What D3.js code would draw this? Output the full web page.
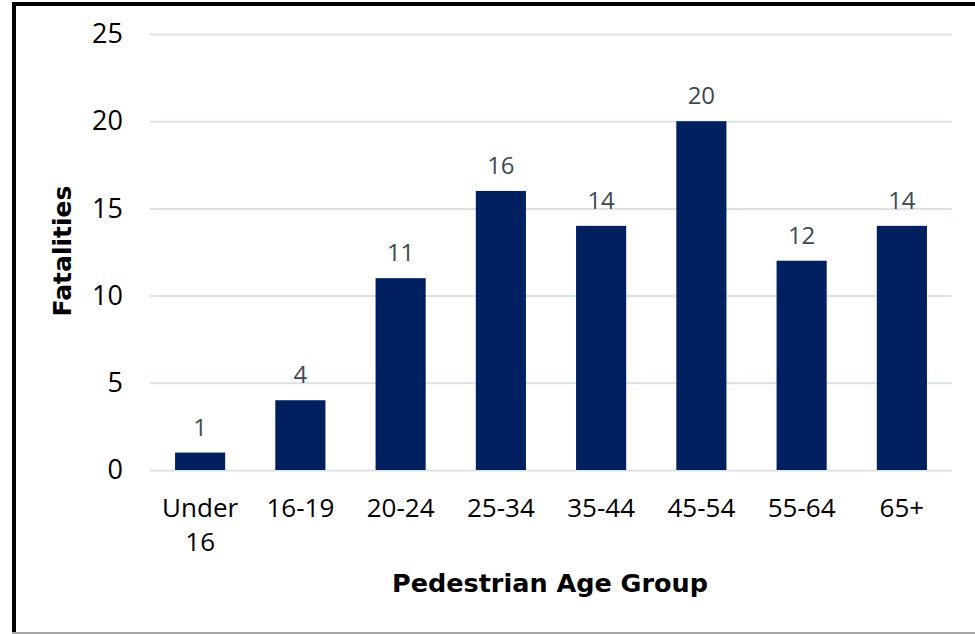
<!DOCTYPE html>
<html><head><meta charset="utf-8">
<script src="https://cdn.jsdelivr.net/npm/d3@7"></script>
<style>html,body{margin:0;padding:0;background:#fff;overflow:hidden}</style>
</head><body>
<svg id="c" width="975" height="634"></svg>
<script>
const categories = ["Under 16","16-19","20-24","25-34","35-44","45-54","55-64","65+"];
const fatalities = [1,4,11,16,14,20,12,14];
const yTicks = [0,5,10,15,20,25];
const yTitle = "Fatalities";
const xTitle = "Pedestrian Age Group";

const svg = d3.select("#c");
const W = 975, H = 634;
const m = {left:150, right:23, top:34, bottom:164};
const font = "'Open Sans', sans-serif";
const titleFont = "'DejaVu Sans', sans-serif";

svg.append("rect").attr("width",W).attr("height",H).attr("fill","#fff");
// frame
svg.append("line").attr("x1",12).attr("x2",W).attr("y1",4).attr("y2",4).attr("stroke","#000").attr("stroke-width",4);
svg.append("line").attr("x1",14).attr("x2",14).attr("y1",2).attr("y2",633).attr("stroke","#000").attr("stroke-width",4);
svg.append("line").attr("x1",12).attr("x2",W).attr("y1",633).attr("y2",633).attr("stroke","#a6a6a6").attr("stroke-width",2);

const x = d3.scaleBand().domain(categories).range([m.left, W - m.right]).paddingInner(0.5).paddingOuter(0.25);
const y = d3.scaleLinear().domain([0,25]).range([H - m.bottom, m.top]);

// grid
const yAxis = svg.append("g").attr("transform",`translate(${m.left},0)`)
  .call(d3.axisLeft(y).tickValues(yTicks).tickSize(-(W - m.right - m.left)).tickPadding(27));
yAxis.select(".domain").remove();
yAxis.selectAll(".tick line").attr("stroke","#d9e2e7").attr("stroke-width",2);
yAxis.selectAll(".tick text").attr("font-family",font).attr("font-size",27).attr("fill","#000");

// bars
svg.append("g").selectAll("rect").data(fatalities).join("rect")
  .attr("x",(d,i)=>x(categories[i]))
  .attr("width",x.bandwidth())
  .attr("y",d=>y(d))
  .attr("height",d=>y(0)-y(d))
  .attr("fill","#002060");

// value labels
svg.append("g").selectAll("text").data(fatalities).join("text")
  .attr("x",(d,i)=>x(categories[i])+x.bandwidth()/2)
  .attr("y",d=>y(d)-17)
  .attr("text-anchor","middle")
  .attr("font-family",font).attr("font-size",24).attr("fill","#3d4a55")
  .text(d=>d);

// x axis labels
const xAxis = svg.append("g").attr("transform",`translate(0,${y(0)})`)
  .call(d3.axisBottom(x).tickSize(0).tickPadding(0));
xAxis.select(".domain").remove();
xAxis.selectAll(".tick text").attr("font-family",font).attr("font-size",26).attr("fill","#000")
  .attr("dy",null).attr("y",0)
  .each(function(d){
    const t = d3.select(this); t.text(null);
    const parts = d === "Under 16" ? ["Under","16"] : [d];
    parts.forEach((p,i)=>t.append("tspan").attr("x",0).attr("y",47+i*34).text(p));
  });

// titles
svg.append("text").attr("x",550).attr("y",592)
  .attr("text-anchor","middle").attr("font-family",titleFont).attr("font-weight","bold")
  .attr("font-size",25.5).attr("fill","#000").text(xTitle);
svg.append("text").attr("transform","translate(71,251) rotate(-90)")
  .attr("text-anchor","middle").attr("font-family",titleFont).attr("font-weight","bold")
  .attr("font-size",25).attr("fill","#000").text(yTitle);
</script>
</body></html>
